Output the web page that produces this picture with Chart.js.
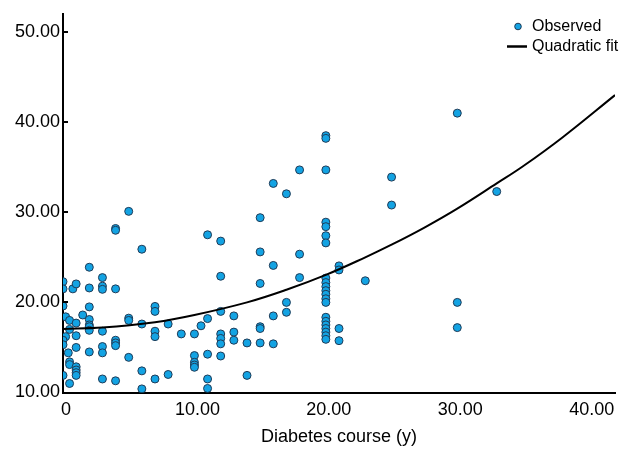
<!DOCTYPE html>
<html>
<head>
<meta charset="utf-8">
<script src="https://cdn.jsdelivr.net/npm/chart.js@4.4.1/dist/chart.umd.min.js"></script>
<style>
  html, body { margin: 0; padding: 0; background: #fff; }
  #wrap { width: 624px; height: 450px; }
</style>
</head>
<body>
<div id="wrap"><canvas id="chart" width="624" height="450"></canvas></div>
<script>
// observed points, grouped by course (years)
const obsX = [
  0, 0, 0, 0.2, 0.5, 0.5, 0.2, 0, 0, 0.4, 0.5, 0.5, 0, 0.5,
  0.75,
  1, 1, 1, 1, 1, 1, 1, 1,
  1.5,
  2, 2, 2, 2, 2, 2, 2, 2,
  3, 3, 3, 3, 3, 3, 3,
  4, 4, 4, 4, 4, 4, 4,
  5, 5, 5, 5,
  6, 6, 6, 6,
  7, 7, 7, 7, 7,
  8, 8,
  9,
  10, 10, 10, 10, 10,
  10.5,
  11, 11, 11, 11, 11,
  12, 12, 12, 12, 12, 12, 12,
  13, 13, 13,
  14, 14,
  15, 15, 15, 15, 15, 15,
  16, 16, 16, 16,
  17, 17, 17,
  18, 18, 18,
  20, 20, 20, 20, 20, 20, 20, 20, 20, 20, 20, 20, 20, 20, 20, 20, 20, 20, 20, 20, 20,
  21, 21, 21, 21,
  23,
  25, 25,
  30, 30, 30,
  33
];
const obsY = [
  22.3, 21.5, 19.6, 18.4, 18.0, 17.0, 16.2, 15.8, 15.3, 14.4, 13.4, 13.1, 11.9, 11.0,
  21.5,
  22.05, 17.7, 16.3, 15.0, 12.85, 12.5, 12.2, 11.9,
  18.6,
  23.9, 21.6, 19.5, 18.1, 17.5, 17.3, 16.9, 14.5,
  22.75, 21.8, 21.45, 16.8, 15.1, 14.4, 11.5,
  28.2, 28.0, 21.5, 15.8, 15.5, 15.2, 11.3,
  30.1, 18.25, 18.0, 13.9,
  25.9, 17.6, 12.4, 10.4,
  19.55, 19.0, 16.8, 16.2, 11.5,
  17.6, 12.0,
  16.5,
  16.5, 14.1, 13.35, 13.05, 12.8,
  17.4,
  27.5, 18.2, 14.25, 11.5, 10.45,
  26.8, 22.9, 19.0, 16.5, 16.0, 15.4, 14.05,
  18.5, 16.7, 15.8,
  15.5, 11.9,
  29.4, 25.6, 22.1, 17.3, 17.1, 15.5,
  33.2, 24.1, 18.5, 15.4,
  32.05, 20.0, 18.9,
  34.7, 25.35, 22.75,
  38.5, 38.2, 34.7, 28.9, 28.4, 27.4, 26.6, 22.7, 22.2, 21.75, 21.3, 20.9, 20.4, 20.0,
  18.35, 17.9, 17.5, 17.1, 16.7, 16.3, 15.9,
  24.05, 23.6, 17.1, 15.75,
  22.4,
  33.9, 30.8,
  41.0, 20.0, 17.2,
  32.3
];

// fitted curve
const fitX = [0, 3, 7, 10, 14, 17, 20, 23, 25, 27.5, 30, 33, 35, 38, 42];
const fitY = [17.05, 17.2, 17.8, 18.6, 20.0, 21.4, 23.05, 25.0, 26.4, 28.3, 30.4, 33.2, 35.1, 38.3, 43.0];

const xTicks = [0, 10, 20, 30, 40];
const yTicks = [10, 20, 30, 40, 50];

const FONT = '"Liberation Sans", Arial, sans-serif';
const DOT_FILL = '#13a3e3';
const DOT_EDGE = '#1f3b57';

const observed = obsX.map((x, i) => ({ x: x, y: obsY[i] }));
const fitted = fitX.map((x, i) => ({ x: x, y: fitY[i] }));

// legend drawn inside the plot, top right
const insideLegend = {
  id: 'insideLegend',
  afterDraw(chart) {
    const ctx = chart.ctx;
    const area = chart.chartArea;
    const ds = chart.data.datasets;
    const left = area.right - 108;
    const row1 = area.top + 12.5;
    const row2 = row1 + 20;
    ctx.save();
    ctx.font = '16px ' + FONT;
    ctx.textBaseline = 'middle';
    ctx.textAlign = 'left';

    ctx.beginPath();
    ctx.arc(left + 11, row1, 3.3, 0, Math.PI * 2);
    ctx.fillStyle = DOT_FILL;
    ctx.fill();
    ctx.lineWidth = 1;
    ctx.strokeStyle = DOT_EDGE;
    ctx.stroke();
    ctx.fillStyle = '#000';
    ctx.fillText(ds[1].label, left + 25, row1);

    ctx.beginPath();
    ctx.moveTo(left, row2);
    ctx.lineTo(left + 20, row2);
    ctx.lineWidth = 2.5;
    ctx.strokeStyle = '#000';
    ctx.stroke();
    ctx.fillText(ds[0].label, left + 25, row2);
    ctx.restore();
  }
};

// short inward tick marks on the y axis
const innerTicks = {
  id: 'innerTicks',
  afterDraw(chart) {
    const ctx = chart.ctx;
    const y = chart.scales.y;
    const left = chart.chartArea.left;
    ctx.save();
    ctx.strokeStyle = '#000';
    ctx.lineWidth = 2;
    y.ticks.forEach(t => {
      const py = Math.round(y.getPixelForValue(t.value));
      ctx.beginPath();
      ctx.moveTo(left, py);
      ctx.lineTo(left + 5, py);
      ctx.stroke();
    });
    ctx.restore();
  }
};

const ctx = document.getElementById('chart').getContext('2d');
const chart = new Chart(ctx, {
  type: 'scatter',
  data: {
    datasets: [{
      type: 'line',
      label: 'Quadratic fit',
      data: fitted,
      borderColor: '#000',
      borderWidth: 2,
      pointRadius: 0,
      fill: false,
      tension: 0.4,
      order: 0
    }, {
      label: 'Observed',
      data: observed,
      pointRadius: 4,
      pointBackgroundColor: DOT_FILL,
      pointBorderColor: DOT_EDGE,
      pointBorderWidth: 1,
      backgroundColor: DOT_FILL,
      borderColor: DOT_EDGE,
      order: 1
    }]
  },
  options: {
    responsive: false,
    animation: false,
    devicePixelRatio: 1,
    layout: { padding: { left: 0, right: 9, top: 14, bottom: 0 } },
    plugins: {
      legend: { display: false },
      tooltip: { enabled: false }
    },
    scales: {
      x: {
        type: 'linear',
        min: 0,
        max: 42,
        afterFit: s => { s.height = 57.5; },
        afterBuildTicks: s => { s.ticks = xTicks.map(v => ({ value: v })); },
        grid: { display: false, drawTicks: false },
        border: { display: true, color: '#000', width: 2 },
        ticks: {
          padding: 7,
          labelOffset: 3,
          maxRotation: 0,
          color: '#000',
          font: { family: FONT, size: 18 },
          callback: v => v === 0 ? '0' : v.toFixed(2)
        },
        title: {
          display: true,
          text: 'Diabetes course (y)',
          color: '#000',
          font: { family: FONT, size: 18 },
          padding: { top: 0, bottom: 2 }
        }
      },
      y: {
        type: 'linear',
        min: 10,
        max: 52,
        afterFit: s => { s.width = 63; },
        afterBuildTicks: s => { s.ticks = yTicks.map(v => ({ value: v })); },
        grid: { display: false, drawTicks: false },
        border: { display: true, color: '#000', width: 2 },
        ticks: {
          padding: 3,
          color: '#000',
          font: { family: FONT, size: 18 },
          callback: v => v.toFixed(2)
        }
      }
    }
  },
  plugins: [insideLegend, innerTicks]
});
</script>
</body>
</html>
